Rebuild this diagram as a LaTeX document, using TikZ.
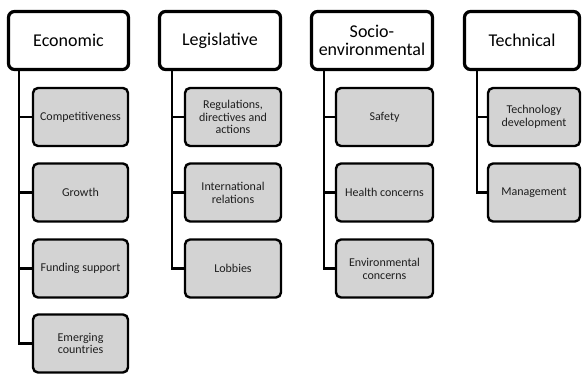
\documentclass[tikz,border=0pt]{standalone}
\usepackage{fontspec}
\setmainfont{Carlito}
\definecolor{boxgray}{HTML}{D3D3D3}
\definecolor{txtgray}{HTML}{1E1E1E}
\begin{document}
\begin{tikzpicture}[x=1pt,y=-1pt,
  headbox/.style={draw=black, line width=3.2pt, fill=white, rounded corners=6pt,
    minimum height=58pt, inner sep=0pt, align=center, text=black,
    font=\fontsize{18}{18.5}\selectfont},
  subbox/.style={draw=black, line width=2.4pt, fill=boxgray, rounded corners=5pt,
    minimum height=58pt, inner sep=0pt, align=center, text=txtgray,
    font=\fontsize{12}{12.8}\selectfont},
  link/.style={draw=black, line width=2.5pt}]
\useasboundingbox (0,0) rectangle (582,374);
% Economic
\node[headbox, minimum width=120pt] (h1) at (68.5,40.5) {Economic};
\node[subbox, minimum width=95pt] (c11) at (80.5,117) {Competitiveness};
\node[subbox, minimum width=95pt] (c12) at (80.5,192.5) {Growth};
\node[subbox, minimum width=95pt] (c13) at (80.5,268.5) {Funding support};
\node[subbox, minimum width=95pt] (c14) at (80.5,343.5) {Emerging\\countries};
% Legislative
\node[headbox, minimum width=121pt] (h2) at (220,40.5) {Legislative};
\node[subbox, minimum width=96pt] (c21) at (233,117) {Regulations,\\directives and\\actions};
\node[subbox, minimum width=96pt] (c22) at (233,192.5) {International\\relations};
\node[subbox, minimum width=96pt] (c23) at (233,268.5) {Lobbies};
% Socio-environmental
\node[headbox, minimum width=121pt] (h3) at (372,40.5) {Socio-\\environmental};
\node[subbox, minimum width=97pt] (c31) at (384.5,117) {Safety};
\node[subbox, minimum width=97pt] (c32) at (384.5,192.5) {Health concerns};
\node[subbox, minimum width=97pt] (c33) at (384.5,268.5) {Environmental\\concerns};
% Technical
\node[headbox, minimum width=115pt] (h4) at (522,40.5) {Technical};
\node[subbox, minimum width=92pt] (c41) at (534,117) {Technology\\development};
\node[subbox, minimum width=92pt] (c42) at (534,192.5) {Management};
% connectors
\foreach \h/\s/\c in {h1/12/c11,h1/12/c12,h1/12/c13,h1/12/c14,
                      h2/14/c21,h2/14/c22,h2/14/c23,
                      h3/14/c31,h3/14/c32,h3/14/c33,
                      h4/14/c41,h4/14/c42}{
  \draw[link] ([xshift=\s pt]\h.south west) |- (\c.west);
}
\end{tikzpicture}
\end{document}
